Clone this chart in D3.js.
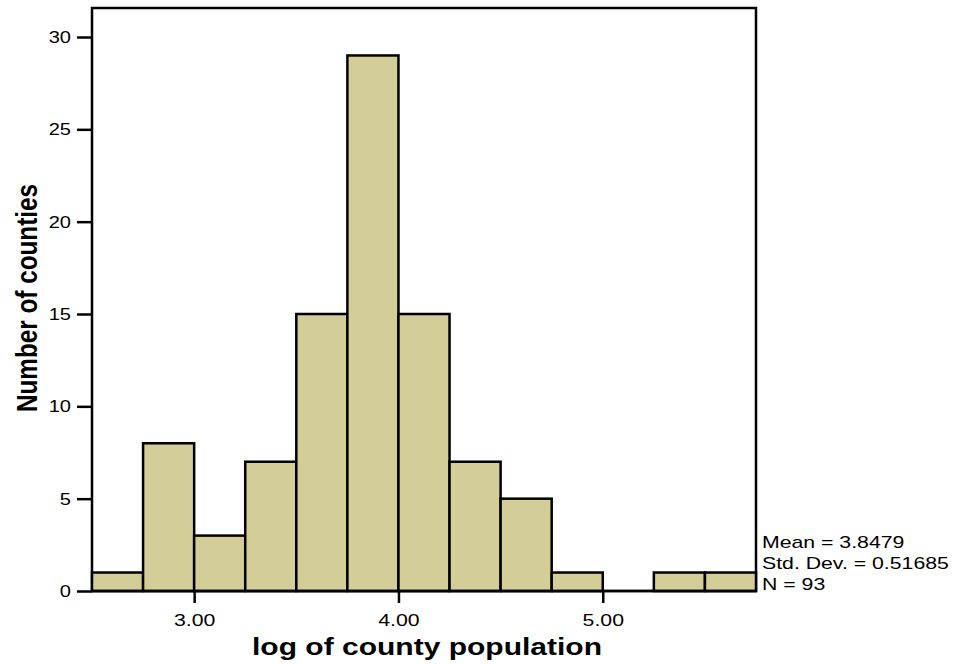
<!DOCTYPE html>
<html><head><meta charset="utf-8">
<script src="https://cdn.jsdelivr.net/npm/d3@7"></script>
<style>body{margin:0;background:#fff;}svg{display:block;}</style>
</head><body>
<svg id="c" width="959" height="664"></svg>
<script>
const binStarts = [2.5, 2.75, 3.0, 3.25, 3.5, 3.75, 4.0, 4.25, 4.5, 4.75, 5.0, 5.25, 5.5];
const counts = [1, 8, 3, 7, 15, 29, 15, 7, 5, 1, 0, 1, 1];
const binWidth = 0.25;
const xTicks = [3, 4, 5];
const yTicks = [0, 5, 10, 15, 20, 25, 30];
const statsLines = ["Mean = 3.8479", "Std. Dev. = 0.51685", "N = 93"];
const xTitle = "log of county population";
const yTitle = "Number of counties";

const svg = d3.select("#c");
const L = 92, R = 756, T = 8, B = 591;
const x = d3.scaleLinear().domain([2.5, 5.75]).range([L, R]);
const y = d3.scaleLinear().domain([0, 30]).range([B, 37]);
const font = "'Liberation Sans', Arial, sans-serif";
const stretch = 1.25;
function widen(sel, f) {
  sel.each(function () {
    const w = this.getComputedTextLength();
    d3.select(this).attr("textLength", w * f).attr("lengthAdjust", "spacingAndGlyphs");
  });
}

// frame
svg.append("rect").attr("x", L).attr("y", T).attr("width", R - L).attr("height", B - T)
  .attr("fill", "#fff").attr("stroke", "#000").attr("stroke-width", 2.5);

// bars
const data = binStarts.map((s, i) => ({s, c: counts[i]}));
svg.append("g").selectAll("rect").data(data.filter(d => d.c > 0)).join("rect")
  .attr("x", d => x(d.s)).attr("width", d => x(d.s + binWidth) - x(d.s))
  .attr("y", d => y(d.c)).attr("height", d => y(0) - y(d.c))
  .attr("fill", "#d3ce98").attr("stroke", "#000").attr("stroke-width", 2.5);

// re-draw bottom line
svg.append("line").attr("x1", L).attr("x2", R).attr("y1", B).attr("y2", B)
  .attr("stroke", "#000").attr("stroke-width", 2.5);

// y axis
const yAxis = d3.axisLeft(y).tickValues(yTicks).tickSize(15).tickPadding(6).tickFormat(d3.format("d"));
const gy = svg.append("g").attr("transform", `translate(${L},0)`).call(yAxis);
gy.select(".domain").remove();
gy.selectAll(".tick line").attr("stroke", "#000").attr("stroke-width", 2.5);
gy.selectAll(".tick text").attr("font-family", font).attr("font-size", 17).attr("fill", "#000");
widen(gy.selectAll(".tick text"), 1.18);

// x axis
const xAxis = d3.axisBottom(x).tickValues(xTicks).tickSize(12).tickPadding(11).tickFormat(d3.format(".2f"));
const gx = svg.append("g").attr("transform", `translate(0,${B})`).call(xAxis);
gx.select(".domain").remove();
gx.selectAll(".tick line").attr("stroke", "#000").attr("stroke-width", 2.5);
gx.selectAll(".tick text").attr("font-family", font).attr("font-size", 17).attr("fill", "#000");
widen(gx.selectAll(".tick text"), stretch);

// titles
svg.append("text").attr("x", 427).attr("y", 655).attr("text-anchor", "middle")
  .attr("font-family", font).attr("font-weight", "bold").attr("font-size", 23)
  .attr("textLength", 350).attr("lengthAdjust", "spacingAndGlyphs")
  .text(xTitle);
svg.append("text").attr("transform", "translate(37,298) rotate(-90) scale(1,1.25)").attr("text-anchor", "middle")
  .attr("font-family", font).attr("font-weight", "bold").attr("font-size", 24)
  .attr("textLength", 228).attr("lengthAdjust", "spacingAndGlyphs")
  .text(yTitle);

// stats
const st = svg.append("g").selectAll("text").data(statsLines).join("text")
  .attr("x", 762).attr("y", (d, i) => 548 + i * 21)
  .attr("font-family", font).attr("font-size", 17).attr("fill", "#000")
  .text(d => d);
widen(st, stretch);
</script>
</body></html>
